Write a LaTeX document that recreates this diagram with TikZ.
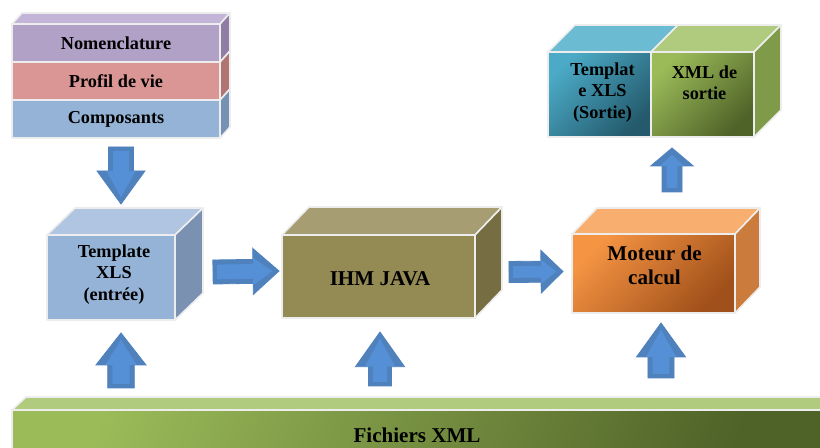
\documentclass[tikz,border=0pt]{standalone}
\usepackage{fontspec}
\setmainfont{Liberation Serif}
\usetikzlibrary{calc,fit}

\definecolor{nomenF}{HTML}{B2A1C7}
\definecolor{nomenT}{HTML}{C3B5D7}
\definecolor{nomenS}{HTML}{8F7DA5}
\definecolor{profilF}{HTML}{DA9694}
\definecolor{profilS}{HTML}{B07472}
\definecolor{compoF}{HTML}{95B3D7}
\definecolor{compoS}{HTML}{7592B5}
\definecolor{tplT}{HTML}{B0C5E2}
\definecolor{tplS}{HTML}{7A91B2}
\definecolor{ihmF}{HTML}{948A54}
\definecolor{ihmT}{HTML}{A69D72}
\definecolor{ihmS}{HTML}{766D42}
\definecolor{motA}{HTML}{F59443}
\definecolor{motB}{HTML}{A0501A}
\definecolor{motT}{HTML}{F8AE6E}
\definecolor{motS}{HTML}{CB7B3B}
\definecolor{bleuA}{HTML}{4BAAC6}
\definecolor{bleuB}{HTML}{245A6C}
\definecolor{bleuT}{HTML}{6BBCD2}
\definecolor{vertA}{HTML}{9BBB59}
\definecolor{vertB}{HTML}{4F6228}
\definecolor{vertT}{HTML}{B1CB7E}
\definecolor{vertS}{HTML}{7F9A48}
\definecolor{flecheF}{HTML}{4F81BD}
\definecolor{flecheC}{HTML}{5590D6}

% --- top and right faces of a box (node, dx, dy, colour)
\newcommand{\dessus}[4]{\draw[arete,fill=#4] (#1.north west) -- ++(#2,#3) -- ($(#1.north east)+(#2,#3)$) -- (#1.north east) -- cycle;}
\newcommand{\cote}[4]{\draw[arete,fill=#4] (#1.north east) -- ++(#2,#3) -- ($(#1.south east)+(#2,#3)$) -- (#1.south east) -- cycle;}
% --- block arrow (from, to, half shaft, half head, head length)
\newcommand{\grossefleche}[5]{%
  \draw[fleche] (#1) to[bloc={#3}{#4}{#5}] (#2);
  \draw[fleche claire] ($(#1)!3pt!(#2)$) to[bloc={#3-3.5pt}{#4-7pt}{#5-5pt}] ($(#2)!5pt!(#1)$);}

\begin{document}
\begin{tikzpicture}[x=0.75pt,y=-0.75pt,
  arete/.style={draw=white!93!black,line width=1.2pt,line join=round},
  face/.style={arete,inner sep=0pt,outer sep=0pt},
  texte/.style={align=center,font=\bfseries\fontsize{13.7}{16}\selectfont},
  grand/.style={font=\bfseries\fontsize{15.8}{18}\selectfont},
  degrade/.style 2 args={top color=#1,bottom color=#2,shading angle=45},
  bloc/.style n args={3}{to path={
    let \p1=($(\tikztotarget)!#3!(\tikztostart)$) in
    ($(\tikztostart)!#1!90:(\tikztotarget)$) -- ($(\p1)!#1!90:(\tikztotarget)$)
    -- ($(\p1)!#2!90:(\tikztotarget)$) -- (\tikztotarget)
    -- ($(\p1)!#2!-90:(\tikztotarget)$) -- ($(\p1)!#1!-90:(\tikztotarget)$)
    -- ($(\tikztostart)!#1!-90:(\tikztotarget)$) -- cycle}},
  fleche/.style={fill=flecheF,draw=flecheF,line width=0.6pt,line join=miter},
  fleche claire/.style={fill=flecheC,draw=none}]
\useasboundingbox (0,0) rectangle (820,448);

% --- stack of inputs
\node[face,fill=nomenF,fit={(12,24) (220,62)}] (nomen) {};
\node[face,fill=profilF,fit={(12,62) (220,100)}] (profil) {};
\node[face,fill=compoF,fit={(12,100) (220,138)}] (compo) {};
\dessus{nomen}{10}{-11}{nomenT}
\cote{nomen}{10}{-11}{nomenS}
\cote{profil}{10}{-11}{profilS}
\cote{compo}{10}{-11}{compoS}
\node[texte] (nomentxt) at (nomen) {Nomenclature};
\node[texte] (profiltxt) at (profil) {Profil de vie};
\node[texte] (compotxt) at (compo) {Composants};

% --- middle row
\node[face,fill=compoF,fit={(47,235) (175,320)}] (tplin) {};
\dessus{tplin}{28}{-27}{tplT}
\cote{tplin}{28}{-27}{tplS}
\node[texte] (tplintxt) at ($(tplin)+(3,-3)$) {Template\\XLS\\(entrée)};

\node[face,fill=ihmF,fit={(282,235) (475,318)}] (ihm) {};
\dessus{ihm}{27}{-28}{ihmT}
\cote{ihm}{27}{-28}{ihmS}
\node[texte,grand] (ihmtxt) at ($(ihm)+(1.5,2.5)$) {IHM JAVA};

\node[face,degrade={motA}{motB},fit={(572,234) (735,313)}] (moteur) {};
\dessus{moteur}{25}{-26}{motT}
\cote{moteur}{25}{-26}{motS}
\node[texte,grand] (moteurtxt) at ($(moteur)+(1,-8)$) {Moteur de\\calcul};

% --- outputs
\node[face,degrade={bleuA}{bleuB},fit={(548,52) (651,137)}] (tplout) {};
\node[face,degrade={vertA}{vertB},fit={(651,52) (754,137)}] (xmlout) {};
\dessus{tplout}{27}{-27}{bleuT}
\dessus{xmlout}{27}{-27}{vertT}
\cote{xmlout}{27}{-27}{vertS}
\node[texte] (tplouttxt) at ($(tplout)+(3,-2)$) {Templat\\e XLS\\(Sortie)};
\node[texte] (xmlouttxt) at ($(xmlout)+(2,-12)$) {XML de\\sortie};

% --- XML files bar
\node[face,degrade={vertA}{vertB},shading angle=70,fit={(12,410) (822,460)}] (fichiers) {};
\dessus{fichiers}{14}{-13}{vertT}
\node[texte,grand] (fichierstxt) at (fichiers) {Fichiers XML};

% --- arrows
\coordinate (f1a) at ($(compo.south)+(5,9)$);
\coordinate (f1b) at ($(tplin.north)+(10,-31)$);
\coordinate (f2a) at ($(tplin.east)+(38,-5.5)$);
\coordinate (f2b) at ($(ihm.west)+(-3,-5.5)$);
\coordinate (f3a) at ($(ihm.east)+(34,-4.5)$);
\coordinate (f3b) at ($(moteur.west)+(-9,-2)$);
\coordinate (f4a) at ($(moteur.north)+(18.5,-42)$);
\coordinate (f4b) at ($(xmlout.south west)+(21,11)$);
\coordinate (f5a) at ($(tplin.south)+(10,68)$);
\coordinate (f5b) at ($(tplin.south)+(10,13)$);
\coordinate (f6a) at ($(ihm.south)+(1.5,68)$);
\coordinate (f6b) at ($(ihm.south)+(1.5,14)$);
\coordinate (f7a) at ($(moteur.south)+(7.5,65)$);
\coordinate (f7b) at ($(moteur.south)+(7.5,10)$);

\grossefleche{f1a}{f1b}{9.4pt}{18pt}{24.8pt}
\grossefleche{f2a}{f2b}{9pt}{17.3pt}{19.5pt}
\grossefleche{f3a}{f3b}{7.9pt}{16pt}{16.5pt}
\grossefleche{f4a}{f4b}{7.5pt}{16pt}{13.5pt}
\grossefleche{f5a}{f5b}{10pt}{18.8pt}{24pt}
\grossefleche{f6a}{f6b}{8.6pt}{18.4pt}{26pt}
\grossefleche{f7a}{f7b}{9.8pt}{18.4pt}{25.5pt}
\end{tikzpicture}
\end{document}
